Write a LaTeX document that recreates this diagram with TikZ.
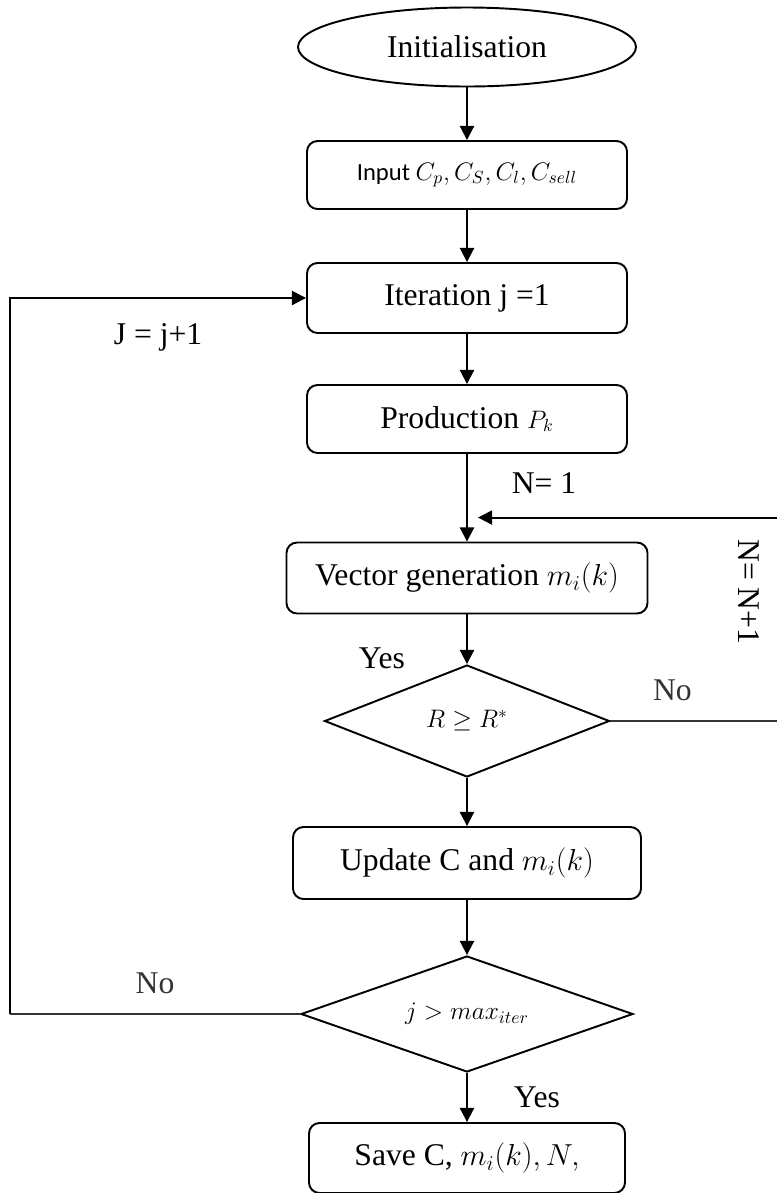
\documentclass[tikz,border=0pt]{standalone}
\usepackage{amsmath, amssymb}
\usepackage{fontspec}
\setmainfont{Liberation Serif}
\newfontfamily\inputfont{Carlito}
\usetikzlibrary{shapes.geometric, positioning, arrows.meta}

\begin{document}
\begin{tikzpicture}[
    >={Triangle[length=8pt, width=8pt]}, node distance=2.5cm, on grid,
    line width=1.1pt,
    box/.style={rectangle, rounded corners=6pt, draw, minimum width=6.4cm, minimum height=1.36cm, font=\fontsize{18}{21}\selectfont},
    start/.style={ellipse, draw, minimum width=6.76cm, minimum height=1.58cm, font=\fontsize{18}{21}\selectfont},
    test/.style={diamond, draw, aspect=2.8, inner sep=0pt, font=\fontsize{14}{16}\selectfont},
    lbl/.style={font=\fontsize{18}{21}\selectfont},
    noline/.style={line width=0.6pt, black!80}
]
    \useasboundingbox (0,0) rectangle (15.52,-23.86);

    \node[start] (init) at (9.34,-0.94) {Initialisation};
    \node[box, font=\inputfont\fontsize{14}{16}\selectfont] (input) [below=2.56cm of init] {Input $C_p, C_S, C_l, C_{sell}$};
    \node[box, minimum height=1.4cm] (iter) [below=2.46cm of input] {Iteration j =1};
    \node[box] (prod) [below=2.42cm of iter] {Production {\fontsize{14}{16}\selectfont$P_k$}};
    \node[box, minimum width=7.22cm, minimum height=1.42cm] (vec) [below=3.18cm of prod] {Vector generation $m_i(k)$};
    \node[test, minimum width=5.7cm, minimum height=2.24cm] (d1) [below=2.86cm of vec] {$R \geq R^{*}$};
    \node[box, minimum width=6.96cm, minimum height=1.44cm] (upd) [below=2.84cm of d1] {Update C and $m_i(k)$};
    \node[test, minimum width=6.64cm, minimum height=2.32cm] (d2) [below=3.02cm of upd] {$j > max_{iter}$};
    \node[box, minimum width=6.32cm, minimum height=1.4cm] (save) [below=2.88cm of d2] {Save C, $m_i(k), N,$};

    % main flow
    \path[->] (init) edge (input);
    \path[->] (input) edge (iter);
    \path[->] (iter) edge (prod);
    \path[->] (prod) edge node[pos=0.33, xshift=1.54cm, lbl] {N= 1} (vec);
    \path[->] (vec) edge node[pos=0.88, xshift=-1.7cm, lbl] {Yes} (d1);
    \path[->] (d1) edge (upd);
    \path[->] (upd) edge (d2);
    \path[->] (d2) edge node[pos=0.5, xshift=1.4cm, lbl] {Yes} (save);

    % loop back over j
    \coordinate (lx) at (0.2,0);
    \draw[noline] (d2.west) -- node[yshift=0.62cm, lbl] {No} (d2.west -| lx);
    \draw[->] (d2.west -| lx) -- (iter.west -| lx) -- node[yshift=-0.78cm, lbl] {J = j+1} (iter.west);

    % loop back over N
    \coordinate (rx) at (15.56,0);
    \coordinate[above right=0.48cm and 0.22cm of vec.north] (nin);
    \draw[noline] (d1.east) -- node[pos=0.37, yshift=0.62cm, lbl] {No} (d1.east -| rx);
    \draw[->] (d1.east -| rx) -- node[pos=0.635, xshift=-0.58cm, rotate=-90, lbl] {N= N+1} (nin -| rx) -- (nin);
\end{tikzpicture}
\end{document}
